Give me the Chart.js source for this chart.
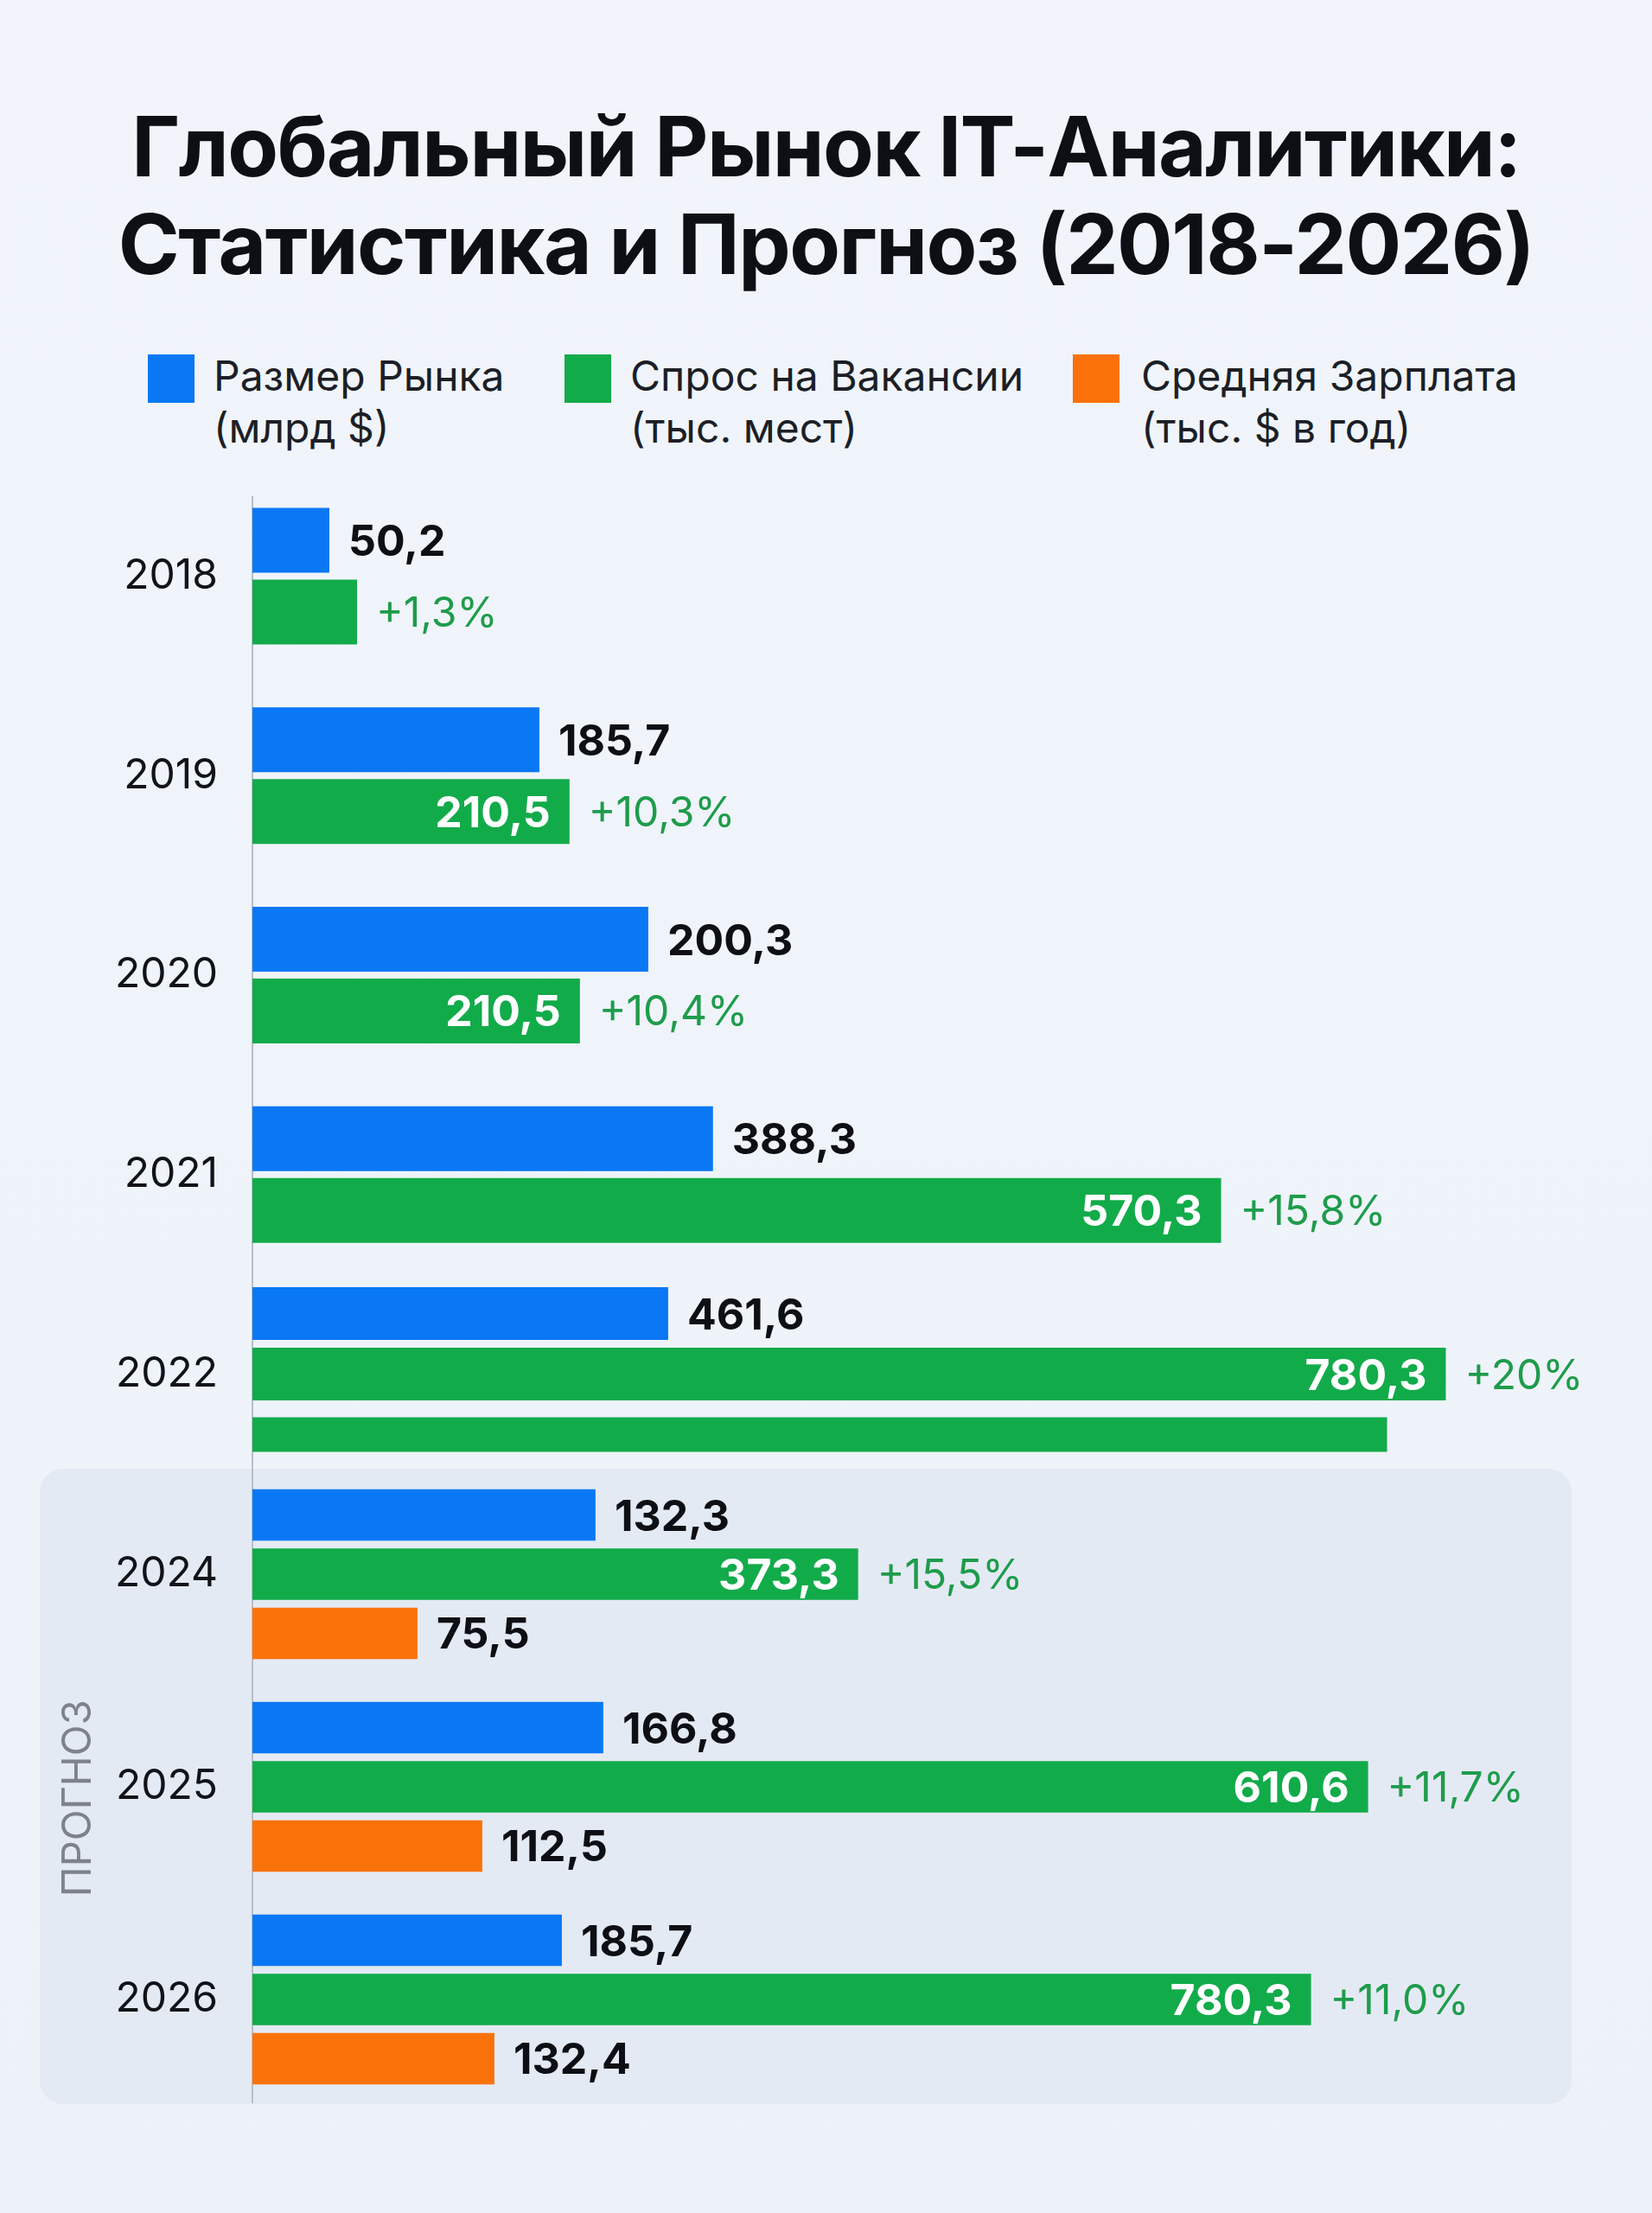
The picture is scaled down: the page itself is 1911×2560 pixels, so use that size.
<!DOCTYPE html>
<html lang="ru">
<head>
<meta charset="utf-8">
<title>Глобальный Рынок IT-Аналитики</title>
<script src="https://cdn.jsdelivr.net/npm/chart.js@4.4.1/dist/chart.umd.min.js"></script>
<style>
  html, body { margin: 0; padding: 0; }
  body {
    width: 1911px; height: 2560px; position: relative; overflow: hidden;
    background: linear-gradient(180deg, #f1f5fb 0%, #edf2f9 100%);
    font-family: Inter, "Noto Sans", sans-serif; color: #0d0f14;
  }
  h1 {
    position: absolute; left: 0; top: 113px; width: 1911px; margin: 0;
    text-align: center; font-size: 96px; line-height: 113px; font-weight: 700;
    letter-spacing: -1.5px;
  }
  .swatch { position: absolute; top: 410px; width: 54px; height: 56px; }
  .legend-text { position: absolute; top: 405px; font-size: 48px; line-height: 60px; white-space: nowrap; color: #1c1f26; }
  .panel { position: absolute; left: 46px; top: 1699px; width: 1772px; height: 735px; border-radius: 27px; background: #e4eaf4; }
  canvas { position: absolute; left: 0; }
</style>
</head>
<body>
  <h1>Глобальный Рынок IT-Аналитики:<br>Статистика и Прогноз (2018-2026)</h1>

  <div class="swatch" style="left:171px;background:#0a78f5"></div>
  <div class="legend-text" style="left:247px">Размер Рынка<br>(млрд $)</div>
  <div class="swatch" style="left:653px;background:#12ab4a"></div>
  <div class="legend-text" style="left:729px">Спрос на Вакансии<br>(тыс. мест)</div>
  <div class="swatch" style="left:1241px;background:#fa7209"></div>
  <div class="legend-text" style="left:1320px">Средняя Зарплата<br>(тыс. $ в год)</div>

  <div class="panel"></div>
  <canvas id="historyChart" width="1911" height="1154" style="top:551px"></canvas>
  <canvas id="forecastChart" width="1911" height="738" style="top:1698px"></canvas>

<script>
// categories
const years = ["2018", "2019", "2020", "2021", "2022", "2024", "2025", "2026"];
const forecastStart = 5;

// bar lengths as drawn (same units for every series)
const marketSize = [50.3, 187.6, 258.8, 301.1, 271.8, 224.3, 229.4, 202.3];
const vacancyDemand = [68.4, 207.3, 214.1, 633.3, 780.2, 396.0, 729.4, 692.1];
const vacancyExtra = [null, null, null, null, 741.8, null, null, null];
const avgSalary = [null, null, null, null, null, 107.9, 150.3, 158.2];

// printed labels
const marketLabels = ["50,2", "185,7", "200,3", "388,3", "461,6", "132,3", "166,8", "185,7"];
const vacancyLabels = ["", "210,5", "210,5", "570,3", "780,3", "373,3", "610,6", "780,3"];
const growthLabels = ["+1,3%", "+10,3%", "+10,4%", "+15,8%", "+20%", "+15,5%", "+11,7%", "+11,0%"];
const salaryLabels = [null, null, null, null, null, "75,5", "112,5", "132,4"];

const BLUE = "#0a78f5";
const GREEN = "#12ab4a";
const ORANGE = "#fa7209";
const GROWTH = "#1e9c4b";
const AXIS = "#b9bec8";

Chart.defaults.font.family = "Inter, 'Noto Sans', sans-serif";

const boldFont = "700 50px Inter";
const plainFont = "400 48px Inter";

// keep values of the given indexes, null elsewhere
function keep(arr, from, to, idxs) {
  return arr.slice(from, to).map((v, i) => (idxs.includes(i + from) ? v : null));
}

function bar(label, data, color, pct, extra) {
  return Object.assign(
    {
      label,
      data,
      backgroundColor: color,
      borderWidth: 0,
      skipNull: true,
      categoryPercentage: pct[0],
      barPercentage: pct[1],
    },
    extra || {}
  );
}

const barLabels = {
  id: "barLabels",
  afterDatasetsDraw(chart) {
    const ctx = chart.ctx;
    ctx.save();
    chart.data.datasets.forEach((ds, di) => {
      const meta = chart.getDatasetMeta(di);
      meta.data.forEach((el, i) => {
        if (ds.data[i] == null) return;
        const inner = ds.innerLabels ? ds.innerLabels[i] : null;
        const outer = ds.outerLabels ? ds.outerLabels[i] : null;
        if (inner) {
          ctx.font = boldFont;
          ctx.fillStyle = "#ffffff";
          ctx.textAlign = "right";
          ctx.textBaseline = "alphabetic";
          ctx.fillText(inner, el.x - 22, el.y + 18);
        }
        if (outer) {
          const bold = ds.outerColor !== GROWTH;
          ctx.font = bold ? boldFont : plainFont;
          ctx.fillStyle = ds.outerColor;
          ctx.textAlign = "left";
          ctx.textBaseline = "alphabetic";
          ctx.fillText(outer, el.x + 22, el.y + (bold ? 18 : 17));
        }
      });
    });
    ctx.restore();
  },
};

// vertical axis line, starting a little below the top of the plot
const axisLine = {
  id: "axisLine",
  beforeDatasetsDraw(chart, args, opts) {
    const { ctx, chartArea } = chart;
    const x = chart.scales.y.right;
    ctx.save();
    ctx.strokeStyle = AXIS;
    ctx.lineWidth = 2;
    ctx.beginPath();
    ctx.moveTo(x, chartArea.top + (opts.inset || 0));
    ctx.lineTo(x, chartArea.bottom - (opts.insetBottom || 0));
    ctx.stroke();
    ctx.restore();
  },
};

function renderBlock(canvasId, from, to, datasets, forecast) {
  const canvas = document.getElementById(canvasId);
  return new Chart(canvas, {
    type: "bar",
    data: { labels: years.slice(from, to), datasets },
    options: {
      indexAxis: "y",
      responsive: false,
      animation: false,
      layout: { padding: 0 },
      plugins: {
        legend: { display: false },
        tooltip: { enabled: false },
        axisLine: forecast ? { inset: 0, insetBottom: 3 } : { inset: 23 },
      },
      scales: {
        x: { type: "linear", min: 0, max: 915, display: false },
        y: {
          grid: { display: false, drawTicks: false },
          border: { display: false },
          ticks: { color: "#111318", font: { size: 48 }, padding: 40 },
          afterFit: (scale) => {
            scale.width = 292;
            scale.paddingTop = 0;
            scale.paddingBottom = 0;
          },
          title: forecast
            ? { display: true, text: "ПРОГНОЗ  ", color: "#7d828d", font: { size: 47 }, padding: { top: 63 } }
            : { display: false },
        },
      },
    },
    plugins: [axisLine, barLabels],
  });
}

// 2018-2022
const pairIdx = [0, 1, 2, 3];
const tripleIdx = [4];
const pairPct = [0.719, 0.904];
const triplePct = [0.91, 0.871];

renderBlock("historyChart", 0, forecastStart, [
  bar("Размер Рынка", keep(marketSize, 0, 5, pairIdx), BLUE, pairPct,
    { outerLabels: marketLabels.slice(0, 5), outerColor: "#0d0f14" }),
  bar("Спрос на Вакансии", keep(vacancyDemand, 0, 5, pairIdx), GREEN, pairPct,
    { innerLabels: vacancyLabels.slice(0, 5), outerLabels: growthLabels.slice(0, 5), outerColor: GROWTH }),
  bar("Размер Рынка 2022", keep(marketSize, 0, 5, tripleIdx), BLUE, triplePct,
    { outerLabels: marketLabels.slice(0, 5), outerColor: "#0d0f14" }),
  bar("Спрос на Вакансии 2022", keep(vacancyDemand, 0, 5, tripleIdx), GREEN, triplePct,
    { innerLabels: vacancyLabels.slice(0, 5), outerLabels: growthLabels.slice(0, 5), outerColor: GROWTH }),
  bar("Спрос на Вакансии 2022 (доп.)", vacancyExtra.slice(0, 5), GREEN, triplePct,
    { maxBarThickness: 40 }),
], false);

// 2024-2026 forecast
const fcPct = [0.835, 0.87];
renderBlock("forecastChart", forecastStart, years.length, [
  bar("Размер Рынка", marketSize.slice(forecastStart), BLUE, fcPct,
    { outerLabels: marketLabels.slice(forecastStart), outerColor: "#0d0f14" }),
  bar("Спрос на Вакансии", vacancyDemand.slice(forecastStart), GREEN, fcPct,
    { innerLabels: vacancyLabels.slice(forecastStart), outerLabels: growthLabels.slice(forecastStart), outerColor: GROWTH }),
  bar("Средняя Зарплата", avgSalary.slice(forecastStart), ORANGE, fcPct,
    { outerLabels: salaryLabels.slice(forecastStart), outerColor: "#0d0f14" }),
], true);
</script>
</body>
</html>
